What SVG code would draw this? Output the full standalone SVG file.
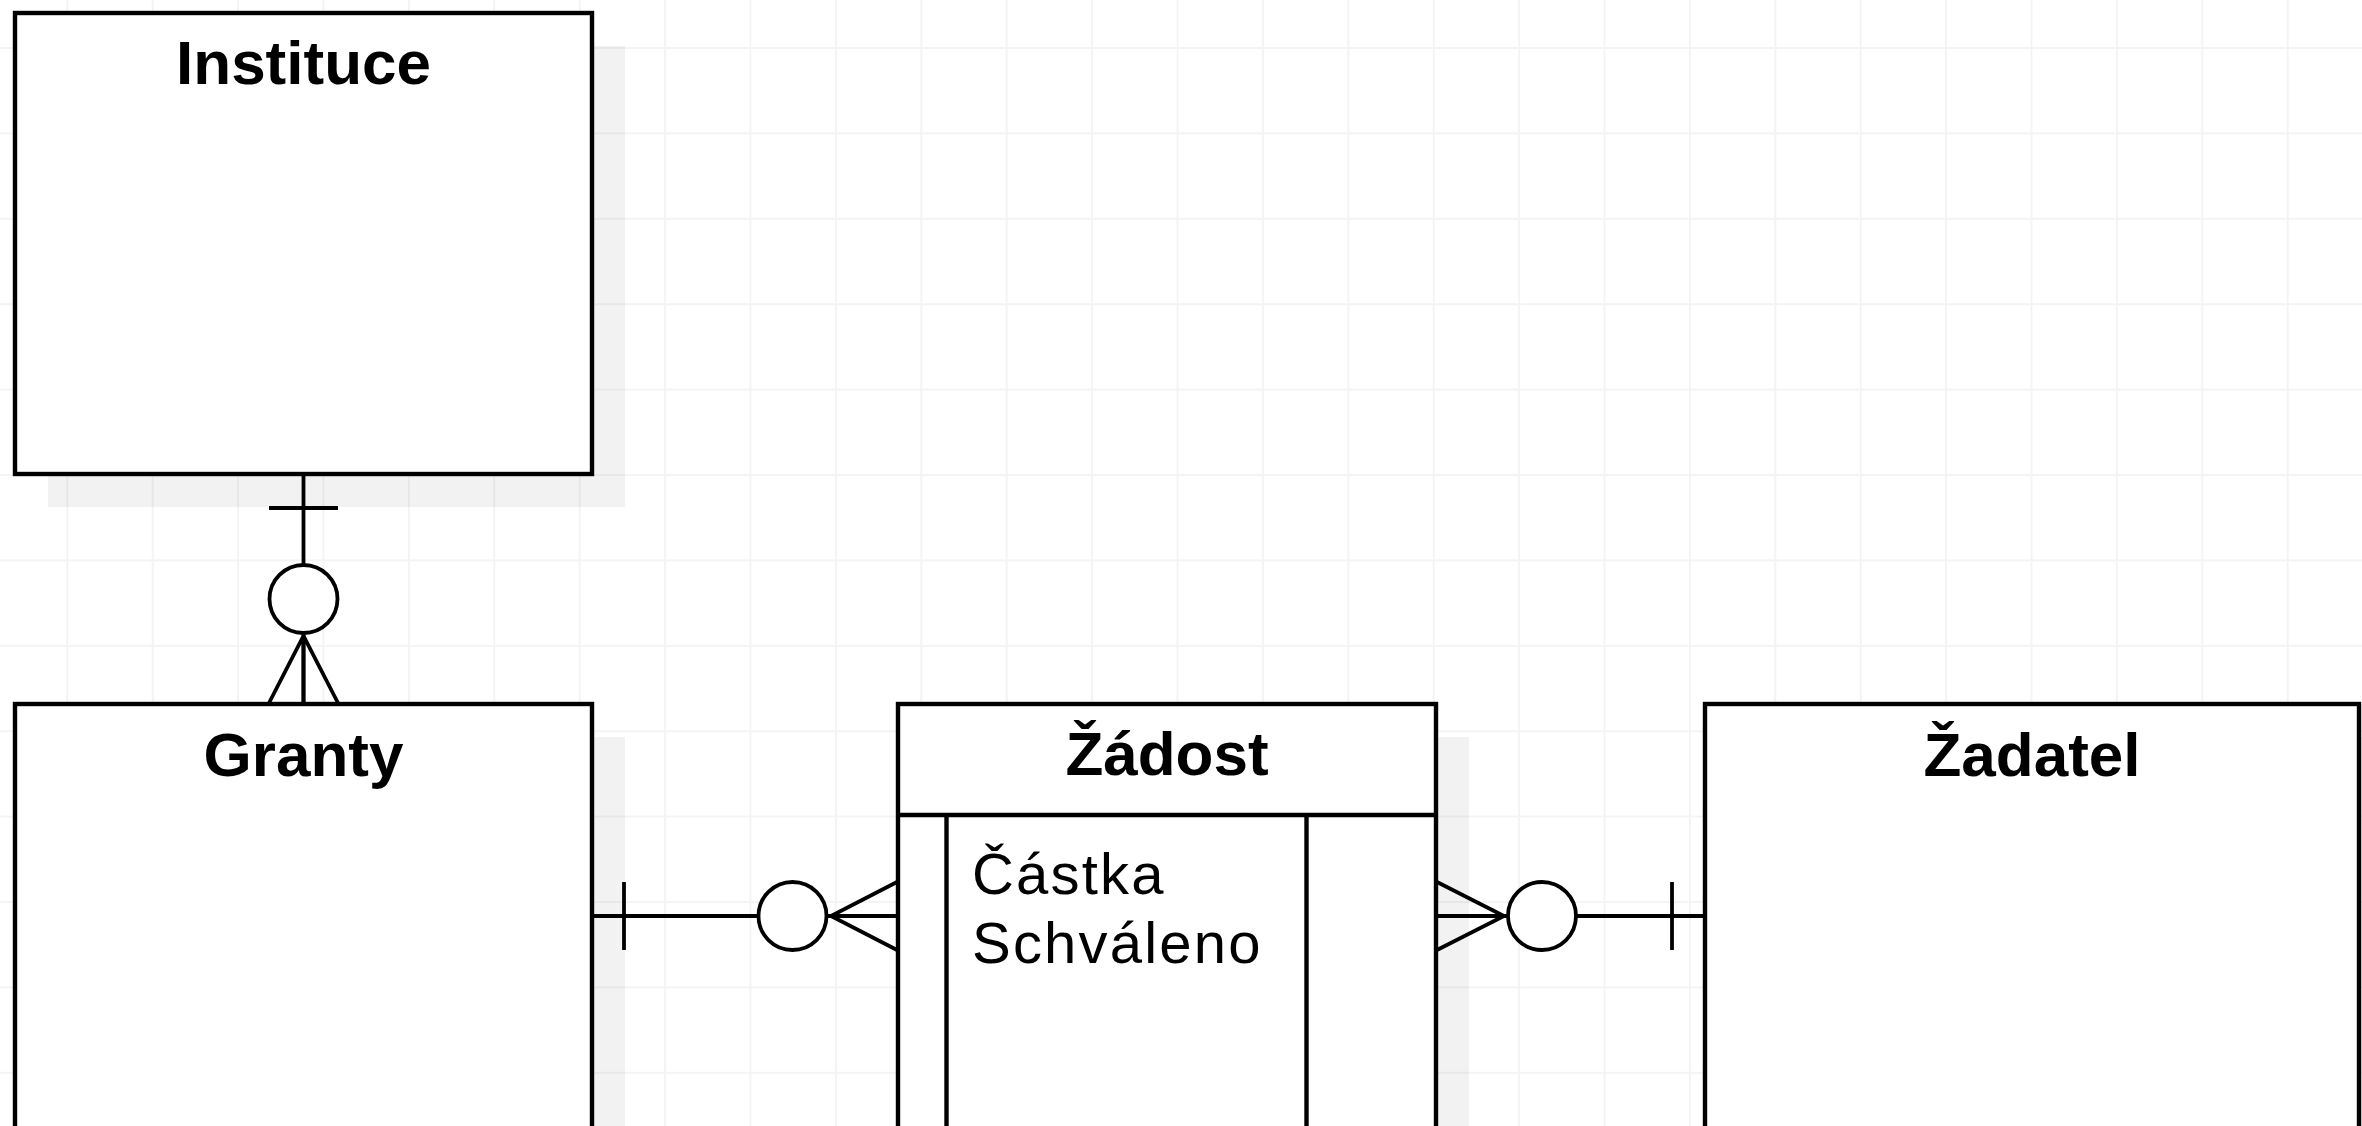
<svg xmlns="http://www.w3.org/2000/svg" width="2362" height="1126" viewBox="0 0 2362 1126">
  <style>
    .box { fill: #ffffff; stroke: #000000; stroke-width: 4.4; }
    .shadow { fill: #000000; fill-opacity: 0.05; }
    .ln { fill: none; stroke: #000000; stroke-width: 3.8; }
    .circ { fill: #ffffff; stroke: #000000; stroke-width: 3.8; }
    .title { font-family: "Liberation Sans", Arial, sans-serif; font-weight: bold; font-size: 62px; text-anchor: middle; fill: #000000; }
    .attr { font-family: "Liberation Sans", Arial, sans-serif; font-size: 58px; letter-spacing: 2.2px; fill: #000000; }
  </style>
  <defs>
    <pattern id="grid" patternUnits="userSpaceOnUse" x="66.3" y="47" width="85.4" height="85.4">
      <path d="M1 0 V85.4 M0 1 H85.4" stroke="#f4f4f4" stroke-width="2" fill="none"/>
    </pattern>
  </defs>
  <rect x="0" y="0" width="2362" height="1126" fill="#ffffff"/>
  <rect x="0" y="0" width="2362" height="1126" fill="url(#grid)"/>

  <g id="instituce">
    <rect class="shadow" x="48" y="46" width="577" height="461"/>
    <rect class="box" x="15" y="13" width="577" height="461"/>
    <text class="title" x="303.5" y="84">Instituce</text>
  </g>

  <g id="granty">
    <rect class="shadow" x="48" y="737" width="577" height="460"/>
    <rect class="box" x="15" y="704" width="577" height="460"/>
    <text class="title" x="303.5" y="776">Granty</text>
  </g>

  <g id="zadost">
    <rect class="shadow" x="931" y="737" width="538" height="460"/>
    <rect class="box" x="898" y="704" width="538" height="460"/>
    <line class="ln" x1="898" y1="815" x2="1436" y2="815" style="stroke-width:4.4"/>
    <line class="ln" x1="946.5" y1="815" x2="946.5" y2="1164" style="stroke-width:4.4"/>
    <line class="ln" x1="1306.5" y1="815" x2="1306.5" y2="1164" style="stroke-width:4.4"/>
    <text class="title" x="1167" y="775">Žádost</text>
    <text class="attr" x="972" y="894">Částka</text>
    <text class="attr" x="972" y="963">Schváleno</text>
  </g>

  <g id="zadatel">
    <rect class="shadow" x="1738" y="737" width="654" height="460"/>
    <rect class="box" x="1705" y="704" width="654" height="460"/>
    <text class="title" x="2032" y="776">Žadatel</text>
  </g>

  <g id="connectors">
    <!-- Instituce - Granty -->
    <g id="c1">
      <line class="ln" x1="303.5" y1="475" x2="303.5" y2="702"/>
      <line class="ln" x1="269" y1="508" x2="338" y2="508"/>
      <circle class="circ" cx="303.5" cy="599" r="34"/>
      <path class="ln" d="M269 703 L303.5 636 L338 703 M303.5 636 V703"/>
    </g>
    <!-- Granty - Žádost -->
    <g id="c2">
      <line class="ln" x1="594" y1="916" x2="896" y2="916"/>
      <line class="ln" x1="624" y1="882" x2="624" y2="950"/>
      <circle class="circ" cx="792.5" cy="916" r="34"/>
      <path class="ln" d="M897 882 L831 916 L897 950"/>
    </g>
    <!-- Žádost - Žadatel -->
    <g id="c3">
      <line class="ln" x1="1438" y1="916" x2="1703" y2="916"/>
      <line class="ln" x1="1672" y1="882" x2="1672" y2="950"/>
      <circle class="circ" cx="1542" cy="916" r="34"/>
      <path class="ln" d="M1437 882 L1504 916 L1437 950"/>
    </g>
  </g>
</svg>
